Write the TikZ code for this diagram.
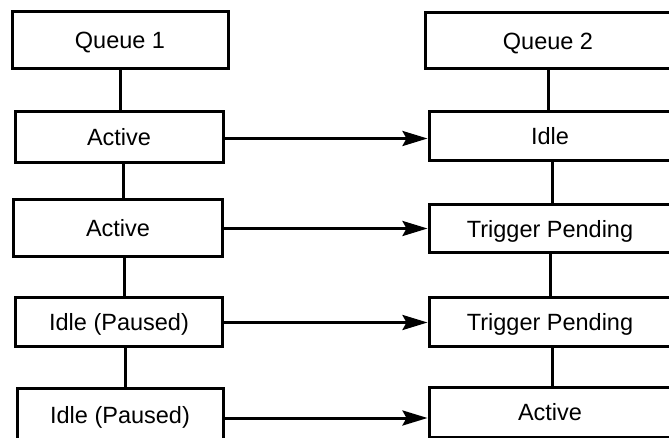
\documentclass[tikz,border=0pt]{standalone}
\usepackage{fontspec}
\setmainfont{Liberation Sans}
\usetikzlibrary{arrows.meta, positioning}

\tikzset{
  state/.style={draw, line width=3pt, inner sep=0pt, text height=17pt, text depth=0pt,
    font=\fontsize{23.5}{28}\selectfont},
  link/.style={line width=3pt},
  trans/.style={line width=3pt, -{Stealth[length=25pt, width=15pt, inset=4pt]}}
}

\begin{document}
\begin{tikzpicture}[x=1pt, y=-1pt]
  \useasboundingbox (0,0) rectangle (669,438);
  % queue 1
  \node[state, minimum width=216pt, minimum height=57pt] (q1)  at (120,40.5)  {Queue 1};
  \node[state, minimum width=208pt, minimum height=51pt] (qa1) at (119,137.5) {Active};
  \node[state, minimum width=209pt, minimum height=57pt] (qa2) at (118,228.5) {Active};
  \node[state, minimum width=207pt, minimum height=49pt] (qp1) at (119,321.5) {Idle (Paused)};
  \node[state, minimum width=206pt, minimum height=54pt] (qp2) at (120,415)   {Idle (Paused)};
  % queue 2
  \node[state, minimum width=246pt, minimum height=56pt] (q2)  at (548,41)    {Queue 2};
  \node[state, minimum width=242pt, minimum height=49pt] (ri)  at (550,136.5) {Idle};
  \node[state, minimum width=242pt, minimum height=48pt] (rt1) at (550,229)   {Trigger Pending};
  \node[state, minimum width=242pt, minimum height=49pt] (rt2) at (550,321.5) {Trigger Pending};
  \node[state, minimum width=242pt, minimum height=50pt] (ra)  at (550,412)   {Active};

  \draw[link] (q1.south) -- (q1.south |- qa1.north);
  \draw[link] ([xshift=4pt]qa1.south) -- ([xshift=4pt]qa1.south |- qa2.north);
  \draw[link] ([xshift=6pt]qa2.south) -- ([xshift=6pt]qa2.south |- qp1.north);
  \draw[link] ([xshift=6pt]qp1.south) -- ([xshift=6pt]qp1.south |- qp2.north);

  \draw[link] (q2.south) -- (q2.south |- ri.north);
  \draw[link] ([xshift=2pt]ri.south) -- ([xshift=2pt]ri.south |- rt1.north);
  \draw[link] (rt1.south) -- (rt1.south |- rt2.north);
  \draw[link] ([xshift=2pt]rt2.south) -- ([xshift=2pt]rt2.south |- ra.north);

  \draw[trans] ([yshift=-1pt]qa1.east) -- ([yshift=-1pt]qa1.east -| ri.west);
  \draw[trans] (qa2.east) -- (qa2.east -| rt1.west);
  \draw[trans] ([yshift=-1pt]qp1.east) -- ([yshift=-1pt]qp1.east -| rt2.west);
  \draw[trans] ([yshift=-3pt]qp2.east) -- ([yshift=-3pt]qp2.east -| ra.west);
\end{tikzpicture}
\end{document}
